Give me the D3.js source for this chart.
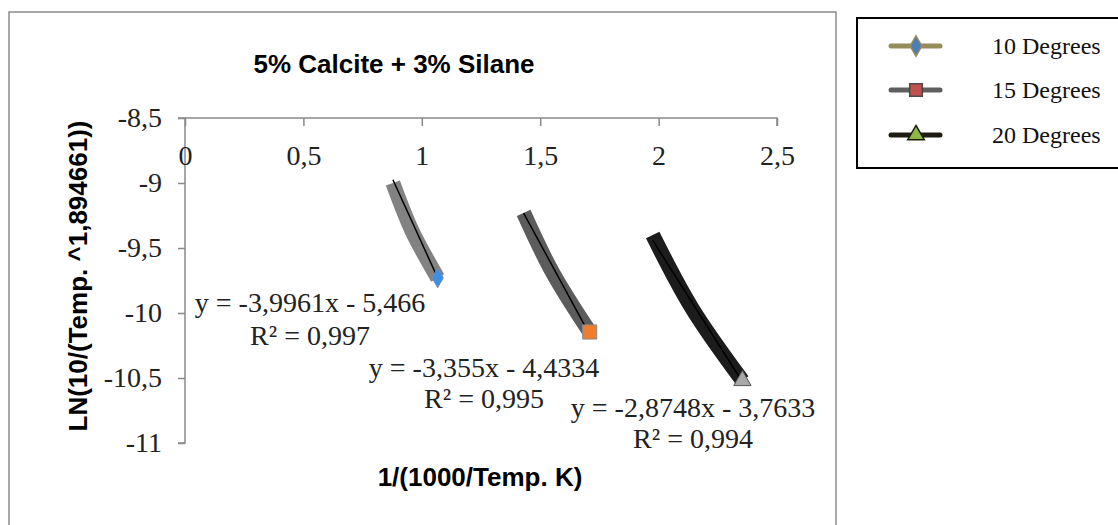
<!DOCTYPE html>
<html>
<head>
<script src="https://d3js.org/d3.v7.min.js"></script>
<style>
  body { margin: 0; background: #fff; }
  svg { display: block; }
</style>
</head>
<body>
<div id="container"></div>
<script>
// data
var seriesNames = ["10 Degrees", "15 Degrees", "20 Degrees"];
var xValues10 = [0.878, 0.958, 1.067];
var yValues10 = [-9.0, -9.365, -9.73];
var xValues15 = [1.43, 1.552, 1.709];
var yValues15 = [-9.23, -9.688, -10.146];
var xValues20 = [1.975, 2.14, 2.354];
var yValues20 = [-9.4, -9.96, -10.52];
var trendSlopes = [-3.9961, -3.355, -2.8748];
var trendIntercepts = [-5.466, -4.4334, -3.7633];
var trendLabels = ["y = -3,9961x - 5,466", "y = -3,355x - 4,4334", "y = -2,8748x - 3,7633"];
var r2Labels = ["R² = 0,997", "R² = 0,995", "R² = 0,994"];
var xTicks = [0, 0.5, 1, 1.5, 2, 2.5];
var yTicks = [-8.5, -9, -9.5, -10, -10.5, -11];

var W = 1118, H = 525;
var svg = d3.select("#container").append("svg")
    .attr("width", W).attr("height", H);

// outer chart frame
svg.append("rect")
    .attr("x", 9).attr("y", 12)
    .attr("width", 827).attr("height", 540)
    .style("fill", "none").style("stroke", "#8c8c8c").style("stroke-width", 1.5);

// scales
var x = d3.scaleLinear().domain([0, 2.5]).range([185, 777]);
var y = d3.scaleLinear().domain([-11, -8.5]).range([443, 118]);

var comma = function(v) { return String(v).replace(".", ","); };
var serif = "'Liberation Serif', 'Times New Roman', serif";
var sans = "'Liberation Sans', Arial, sans-serif";
var axisGrey = "#898989";

// y axis
var yAxis = svg.append("g")
    .attr("transform", "translate(" + x(0) + ",0)")
    .call(d3.axisLeft(y).tickValues(yTicks).tickSize(7).tickPadding(16).tickFormat(comma));
yAxis.select(".domain").style("stroke", axisGrey).style("stroke-width", 1.5)
    .attr("d", "M-7," + y(-8.5) + "H0V" + y(-11) + "H-7");
yAxis.selectAll(".tick line").style("stroke", axisGrey).style("stroke-width", 1.5);
yAxis.selectAll(".tick text").style("font-family", serif).style("font-size", "28px").style("fill", "#222");

// x axis on top (crosses at y = -8.5)
var xAxis = svg.append("g")
    .attr("transform", "translate(0," + y(-8.5) + ")")
    .call(d3.axisBottom(x).tickValues(xTicks).tickSize(8).tickPadding(19).tickFormat(comma));
xAxis.select(".domain").style("stroke", axisGrey).style("stroke-width", 1.5)
    .attr("d", "M" + x(0) + ",0H" + x(2.5) + "V8");
xAxis.selectAll(".tick line").style("stroke", axisGrey).style("stroke-width", 1.5);
xAxis.selectAll(".tick text").style("font-family", serif).style("font-size", "28px").style("fill", "#222");

// series
var series = [
  { xs: xValues10, ys: yValues10, stroke: "#828282", marker: "diamond", fill: "#3d8fe3", mstroke: "#6f8fb0" },
  { xs: xValues15, ys: yValues15, stroke: "#5c5c5c", marker: "square", fill: "#ee7d2e", mstroke: "#8a8a8a" },
  { xs: xValues20, ys: yValues20, stroke: "#1c1c1c", marker: "triangle", fill: "#a8a8a8", mstroke: "#555" }
];

var line = d3.line()
    .x(function(d) { return x(d[0]); })
    .y(function(d) { return y(d[1]); })
    .curve(d3.curveCatmullRom);

var symbolType = { diamond: d3.symbolDiamond, square: d3.symbolSquare, triangle: d3.symbolTriangle };
var symbolSize = { diamond: 110, square: 200, triangle: 130 };

series.forEach(function(s, i) {
  var pts = s.xs.map(function(v, j) { return [v, s.ys[j]]; });
  svg.append("path")
      .datum(pts)
      .attr("d", line)
      .style("fill", "none")
      .style("stroke", s.stroke)
      .style("stroke-width", 15)
      .style("stroke-linejoin", "round");
  // trend line
  var x0 = s.xs[0], x1 = s.xs[s.xs.length - 1];
  svg.append("line")
      .attr("x1", x(x0)).attr("y1", y(trendSlopes[i] * x0 + trendIntercepts[i]))
      .attr("x2", x(x1)).attr("y2", y(trendSlopes[i] * x1 + trendIntercepts[i]))
      .style("stroke", "#000").style("stroke-width", 1.5);
  // marker at the last point
  var last = pts[pts.length - 1];
  svg.append("path")
      .attr("d", d3.symbol().type(symbolType[s.marker]).size(symbolSize[s.marker]))
      .attr("transform", "translate(" + x(last[0]) + "," + y(last[1]) + ")")
      .style("fill", s.fill).style("stroke", s.mstroke).style("stroke-width", 1);
});

// trendline labels
var eqPos = [[310, 312, 345], [484, 377, 408], [693, 417, 448]];
trendLabels.forEach(function(t, i) {
  svg.append("text").attr("x", eqPos[i][0]).attr("y", eqPos[i][1])
      .attr("text-anchor", "middle")
      .style("font-family", serif).style("font-size", "28px").style("fill", "#222")
      .text(t);
  svg.append("text").attr("x", eqPos[i][0]).attr("y", eqPos[i][2])
      .attr("text-anchor", "middle")
      .style("font-family", serif).style("font-size", "28px").style("fill", "#222")
      .text(r2Labels[i]);
});

// titles
svg.append("text").attr("x", 394).attr("y", 73)
    .attr("text-anchor", "middle")
    .style("font-family", sans).style("font-weight", "bold").style("font-size", "26px")
    .text("5% Calcite + 3% Silane");

svg.append("text").attr("x", 480).attr("y", 486)
    .attr("text-anchor", "middle")
    .style("font-family", sans).style("font-weight", "bold").style("font-size", "26px")
    .text("1/(1000/Temp. K)");

svg.append("text")
    .attr("transform", "translate(87,276) rotate(-90)")
    .attr("text-anchor", "middle")
    .style("font-family", sans).style("font-weight", "bold").style("font-size", "26px")
    .text("LN(10/(Temp. ^1,894661))");

// legend
var legend = svg.append("g");
legend.append("rect")
    .attr("x", 857).attr("y", 18).attr("width", 270).attr("height", 150)
    .style("fill", "#fff").style("stroke", "#000").style("stroke-width", 2);

var legendLine = ["#968c5a", "#5f5f5f", "#1e1c11"];
var legendFill = ["#4a7ebb", "#c0504d", "#8fb943"];
var legendMStroke = ["#968c5a", "#4a4a4a", "#1e1c11"];
var legendMarker = ["diamond", "square", "triangle"];
var legendY = [46, 90, 135];
seriesNames.forEach(function(name, i) {
  var cy = legendY[i];
  legend.append("line")
      .attr("x1", 891).attr("x2", 940).attr("y1", cy).attr("y2", cy)
      .style("stroke", legendLine[i]).style("stroke-width", 5).style("stroke-linecap", "round");
  legend.append("path")
      .attr("d", d3.symbol().type(symbolType[legendMarker[i]]).size([120, 160, 120][i]))
      .attr("transform", "translate(916," + cy + ")")
      .style("fill", legendFill[i]).style("stroke", legendMStroke[i]).style("stroke-width", 1.5);
  legend.append("text")
      .attr("x", 992).attr("y", cy + 8)
      .style("font-family", serif).style("font-size", "24px").style("fill", "#111")
      .text(name);
});
</script>
</body>
</html>
